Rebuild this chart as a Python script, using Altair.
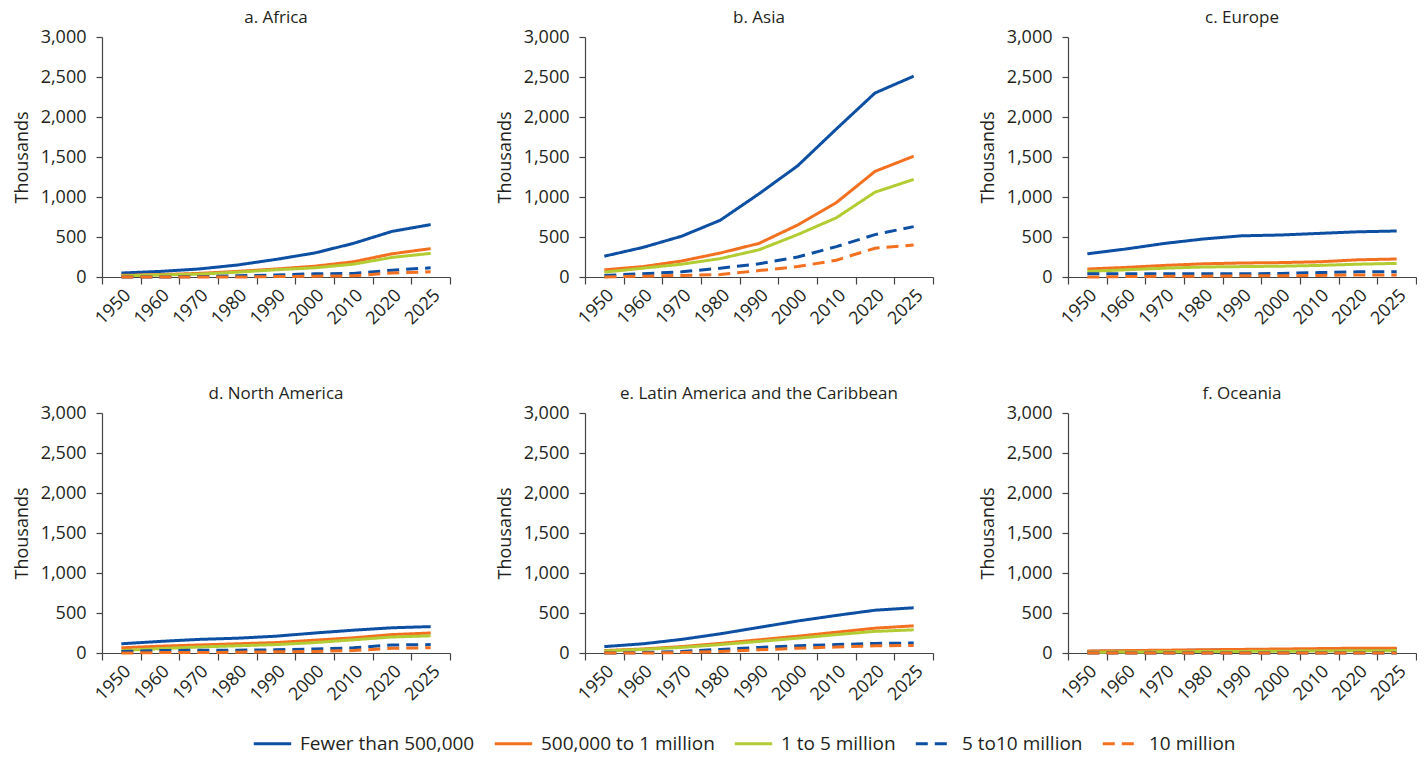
import altair as alt
import pandas as pd

years = ["1950", "1960", "1970", "1980", "1990", "2000", "2010", "2020", "2025"]
regions = ["a. Africa", "b. Asia", "c. Europe", "d. North America",
           "e. Latin America and the Caribbean", "f. Oceania"]
series = ["Fewer than 500,000", "500,000 to 1 million", "1 to 5 million",
          "5 to10 million", "10 million"]

# values in thousands, order of `series`
africa = [
    [50, 70, 100, 150, 220, 300, 420, 570, 655],
    [20, 30, 45, 70, 100, 135, 190, 290, 355],
    [15, 25, 35, 60, 90, 115, 160, 245, 295],
    [0, 0, 5, 15, 25, 40, 45, 85, 115],
    [0, 0, 0, 0, 5, 10, 15, 50, 65],
]
asia = [
    [260, 370, 510, 710, 1040, 1390, 1850, 2300, 2510],
    [90, 130, 200, 300, 420, 650, 930, 1320, 1510],
    [60, 110, 160, 230, 340, 530, 740, 1060, 1220],
    [20, 40, 65, 110, 165, 250, 380, 530, 630],
    [0, 10, 20, 30, 80, 130, 210, 360, 400],
]
europe = [
    [290, 350, 420, 475, 515, 525, 545, 565, 575],
    [100, 120, 145, 165, 175, 180, 190, 215, 225],
    [70, 90, 110, 125, 130, 135, 145, 160, 170],
    [40, 40, 40, 40, 40, 45, 55, 65, 65],
    [0, 5, 10, 10, 15, 15, 20, 25, 25],
]
north_america = [
    [115, 145, 170, 185, 210, 250, 285, 315, 330],
    [65, 85, 100, 115, 130, 160, 190, 230, 250],
    [30, 55, 75, 90, 105, 130, 165, 200, 215],
    [20, 30, 35, 35, 40, 50, 65, 100, 105],
    [0, 5, 5, 10, 15, 20, 30, 60, 65],
]
latin_america = [
    [80, 115, 170, 240, 320, 400, 470, 535, 565],
    [30, 50, 80, 120, 165, 210, 260, 310, 340],
    [25, 45, 70, 105, 145, 185, 230, 270, 290],
    [0, 5, 20, 45, 70, 90, 105, 120, 125],
    [0, 0, 5, 20, 40, 60, 75, 90, 95],
]
oceania = [
    [20, 25, 30, 35, 40, 40, 45, 50, 50],
    [25, 30, 35, 40, 45, 50, 55, 60, 60],
    [10, 12, 15, 18, 20, 22, 25, 28, 30],
    [0, 0, 0, 0, 0, 0, 0, 0, 0],
    [0, 0, 0, 0, 0, 0, 0, 0, 0],
]

region_values = [africa, asia, europe, north_america, latin_america, oceania]

rows = []
for reg, table in zip(regions, region_values):
    for s_idx, (s, vals) in enumerate(zip(series, table)):
        for y, v in zip(years, vals):
            rows.append({"region": reg, "series": s, "order": s_idx, "year": y, "value": v})
df = pd.DataFrame(rows)

blue = "#0d4fa3"
orange = "#f37021"
green = "#b3cc33"
colors = [blue, orange, green, blue, orange]
dashes = [[1, 0], [1, 0], [1, 0], [12, 7], [12, 7]]

FONT = "Open Sans"
TEXT = "#231f20"

legend_kw = dict(
    title=None, orient="none", direction="horizontal", legendX=150, legendY=686,
    symbolType="stroke", symbolSize=1400, symbolStrokeWidth=3,
    labelFontSize=19, labelFont=FONT, labelColor=TEXT, columnPadding=13,
    labelOffset=7, labelLimit=300,
)

base = alt.Chart(df).mark_line(strokeWidth=3).encode(
    x=alt.X("year:O", sort=years,
            scale=alt.Scale(type="band", paddingInner=0, paddingOuter=0),
            axis=alt.Axis(title=None, labelAngle=-45, tickBand="extent",
                          tickSize=7, labelPadding=2)),
    y=alt.Y("value:Q", scale=alt.Scale(domain=[0, 3000], nice=False),
            axis=alt.Axis(title="Thousands", values=[0, 500, 1000, 1500, 2000, 2500, 3000],
                          format=",.0f", tickSize=6, labelPadding=10, titlePadding=9,
                          grid=False)),
    color=alt.Color("series:N", sort=series,
                    scale=alt.Scale(domain=series, range=colors),
                    legend=alt.Legend(**legend_kw)),
    strokeDash=alt.StrokeDash("series:N", sort=series,
                              scale=alt.Scale(domain=series, range=dashes),
                              legend=alt.Legend(**legend_kw)),
    order=alt.Order("order:Q"),
).properties(width=348, height=240)

chart = base.facet(
    facet=alt.Facet("region:N", sort=regions,
                    header=alt.Header(title=None, labelFontSize=17, labelFont=FONT,
                                      labelColor=TEXT, labelPadding=1)),
    columns=3,
    spacing={"row": 57, "column": 45},
).resolve_axis(x="independent", y="independent").properties(
    padding={"left": 5, "top": 1, "right": 0, "bottom": 0},
    background="white",
).configure_view(stroke=None).configure_axis(
    labelFont=FONT, titleFont=FONT, labelFontSize=18, titleFontSize=18,
    titleFontWeight="normal", labelColor=TEXT, titleColor=TEXT,
    domainColor="#444", tickColor="#444", domainWidth=1.2, tickWidth=1.2,
)

chart.save("out.html", embed_options={"renderer": "svg", "actions": False})
